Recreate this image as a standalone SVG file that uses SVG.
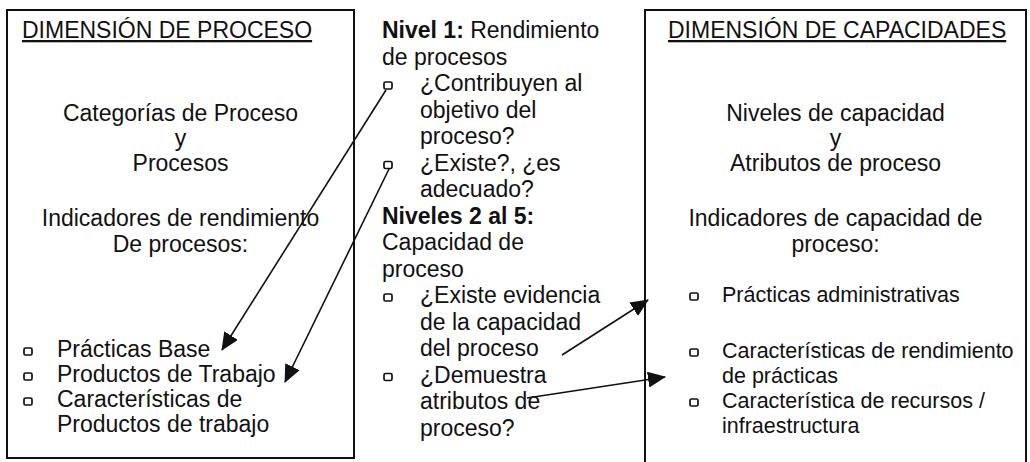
<svg xmlns="http://www.w3.org/2000/svg" width="1030" height="462" viewBox="0 0 1030 462">
<style>
text{font-family:"Liberation Sans",Arial,sans-serif;font-size:23px;fill:#111}
.c{text-anchor:middle}
.u{text-decoration:underline}
.b{font-weight:bold}
.s{font-size:21.5px}
.box{fill:none;stroke:#111;stroke-width:2}
.bul{fill:none;stroke:#111;stroke-width:1.7}
.arr{stroke:#111;stroke-width:1.6;fill:none}
</style>
<defs>
<marker id="ah" markerUnits="userSpaceOnUse" markerWidth="18" markerHeight="16" refX="17" refY="8" orient="auto">
<path d="M0,0 L18,8 L0,16 z" fill="#111"/>
</marker>
<rect id="sq" width="8" height="7" rx="1.5"/>
</defs>
<rect width="1030" height="462" fill="#fff"/>

<g id="proceso">
<rect class="box" x="7" y="10" width="347" height="448"/>
<text class="u" x="22" y="38">DIMENSIÓN DE PROCESO</text>
<text class="c" x="180.5" y="121">Categorías de Proceso</text>
<text class="c" x="180.5" y="146">y</text>
<text class="c" x="180.5" y="171">Procesos</text>
<text class="c" x="180.5" y="226">Indicadores de rendimiento</text>
<text class="c" x="180.5" y="252">De procesos:</text>
<use href="#sq" class="bul" x="24" y="348"/>
<text x="57" y="357">Prácticas Base</text>
<use href="#sq" class="bul" x="24" y="373"/>
<text x="57" y="382">Productos de Trabajo</text>
<use href="#sq" class="bul" x="24" y="398"/>
<text x="57" y="407">Características de</text>
<text x="57" y="432">Productos de trabajo</text>
</g>

<g id="niveles">
<text x="382" y="38"><tspan class="b">Nivel 1:</tspan> Rendimiento</text>
<text x="382" y="64.5">de procesos</text>
<use href="#sq" class="bul" x="384" y="82"/>
<text x="420" y="91">¿Contribuyen al</text>
<text x="420" y="117.5">objetivo del</text>
<text x="420" y="144">proceso?</text>
<use href="#sq" class="bul" x="384" y="161.5"/>
<text x="420" y="170.5">¿Existe?, ¿es</text>
<text x="420" y="197">adecuado?</text>
<text x="382" y="223.5" class="b">Niveles 2 al 5:</text>
<text x="382" y="250">Capacidad de</text>
<text x="382" y="276.5">proceso</text>
<use href="#sq" class="bul" x="384" y="294"/>
<text x="420" y="303">¿Existe evidencia</text>
<text x="420" y="329.5">de la capacidad</text>
<text x="420" y="356">del proceso</text>
<use href="#sq" class="bul" x="384" y="373.5"/>
<text x="420" y="382.5">¿Demuestra</text>
<text x="420" y="409">atributos de</text>
<text x="420" y="435.5">proceso?</text>
</g>

<g id="capacidades">
<path class="box" d="M645,470 V10 H1026 V470"/>
<text class="u" x="668" y="38">DIMENSIÓN DE CAPACIDADES</text>
<text class="c" x="835.5" y="121">Niveles de capacidad</text>
<text class="c" x="835.5" y="146">y</text>
<text class="c" x="835.5" y="171">Atributos de proceso</text>
<text class="c" x="835.5" y="226">Indicadores de capacidad de</text>
<text class="c" x="835.5" y="252">proceso:</text>
<use href="#sq" class="bul" x="690" y="293"/>
<text class="s" x="722" y="302">Prácticas administrativas</text>
<use href="#sq" class="bul" x="690" y="349"/>
<text class="s" x="722" y="358">Características de rendimiento</text>
<text class="s" x="722" y="383">de prácticas</text>
<use href="#sq" class="bul" x="690" y="399"/>
<text class="s" x="722" y="408">Característica de recursos /</text>
<text class="s" x="722" y="433">infraestructura</text>
</g>

<g id="connectors">
<line class="arr" x1="386" y1="90" x2="222" y2="350" marker-end="url(#ah)"/>
<line class="arr" x1="389" y1="169" x2="285" y2="382" marker-end="url(#ah)"/>
<line class="arr" x1="562" y1="355" x2="648" y2="300" marker-end="url(#ah)"/>
<line class="arr" x1="527" y1="398" x2="665" y2="377" marker-end="url(#ah)"/>
</g>
</svg>
